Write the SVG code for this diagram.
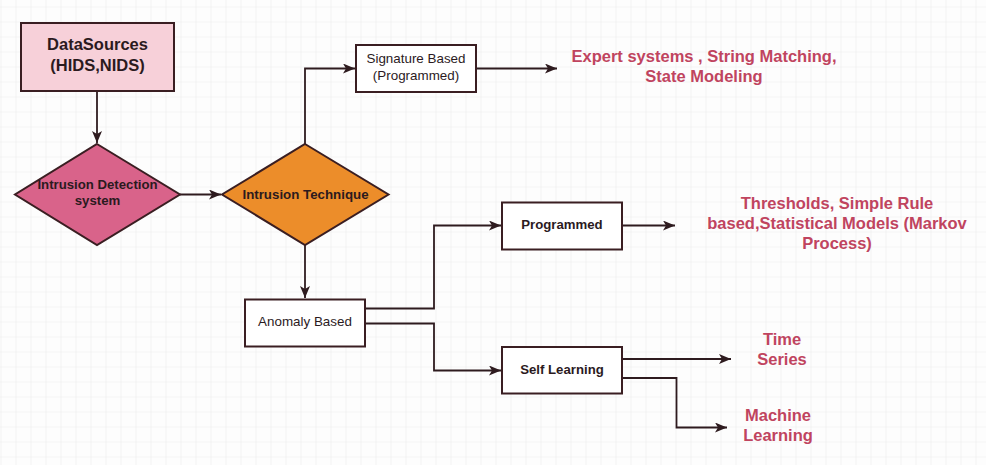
<svg xmlns="http://www.w3.org/2000/svg" width="986" height="465" viewBox="0 0 986 465">
<defs>
<pattern id="grid" x="0.5" y="6.5" width="15" height="15" patternUnits="userSpaceOnUse">
<path d="M0 0V15M0 0H15" fill="none" stroke="#ececec" stroke-width="1.2"/>
</pattern>
<marker id="arr" viewBox="0 0 12 10" refX="12" refY="5" markerWidth="12" markerHeight="10" markerUnits="userSpaceOnUse" orient="auto">
<path d="M0 0L12 5L0 10L3 5Z" fill="#2e1b1f"/>
</marker>
<style>
.n{stroke:#3a1e22;stroke-width:2}
.c{fill:none;stroke:#2e1b1f;stroke-width:1.8;marker-end:url(#arr)}
.t{font-family:"Liberation Sans",Arial,sans-serif;fill:#2b1a1e;text-anchor:middle}
.b{font-weight:bold}
.r{font-family:"Liberation Sans",Arial,sans-serif;fill:#c0445f;font-weight:bold;font-size:16.5px;text-anchor:middle}
</style>
</defs>
<rect width="986" height="465" fill="#fdfdfd"/>
<rect width="986" height="465" fill="url(#grid)"/>
<g id="connectors">
<path class="c" d="M97 91V143"/>
<path class="c" d="M180 194.5H221"/>
<path class="c" d="M305 144V68.5H355"/>
<path class="c" d="M476 68.5H557"/>
<path class="c" d="M305 245V298"/>
<path class="c" d="M365 308.5H434V225.5H501"/>
<path class="c" d="M365 323.5H434V370.5H501"/>
<path class="c" d="M622 225.5H675"/>
<path class="c" d="M622 359H731"/>
<path class="c" d="M622 378H676.5V427.5H727"/>
</g>
<g id="datasources">
<rect class="n" x="21" y="23" width="153" height="68" fill="#f7d0d9"/>
<text class="t b" x="97.5" y="50" font-size="16.5">DataSources</text>
<text class="t b" x="97.5" y="71" font-size="16.5">(HIDS,NIDS)</text>
</g>
<g id="ids">
<path class="n" d="M97 144L180 194.5L97 245L15 194.5Z" fill="#d9638a"/>
<text class="t b" x="97.5" y="189" font-size="13.2">Intrusion Detection</text>
<text class="t b" x="97.5" y="205" font-size="13.2">system</text>
</g>
<g id="technique">
<path class="n" d="M305 144L388.5 194.5L305 245L222 194.5Z" fill="#ec8d2a"/>
<text class="t b" x="305.5" y="199" font-size="13.3">Intrusion Technique</text>
</g>
<g id="signature">
<rect class="n" x="356" y="45" width="120" height="47" fill="#ffffff"/>
<text class="t" x="416" y="63" font-size="13.4">Signature Based</text>
<text class="t" x="416" y="80" font-size="13.4">(Programmed)</text>
</g>
<g id="expert">
<text class="r" x="704" y="62">Expert systems , String Matching,</text>
<text class="r" x="704" y="82">State Modeling</text>
</g>
<g id="anomaly">
<rect class="n" x="245" y="299.5" width="120" height="47" fill="#ffffff"/>
<text class="t" x="305" y="326" font-size="13.4">Anomaly Based</text>
</g>
<g id="programmed">
<rect class="n" x="502" y="202.5" width="120" height="47" fill="#ffffff"/>
<text class="t b" x="562" y="229" font-size="13.2">Programmed</text>
</g>
<g id="selflearning">
<rect class="n" x="502" y="347" width="120" height="46.5" fill="#ffffff"/>
<text class="t b" x="562" y="374" font-size="13.2">Self Learning</text>
</g>
<g id="thresholds">
<text class="r" x="837" y="209">Thresholds, Simple Rule</text>
<text class="r" x="837" y="229">based,Statistical Models (Markov</text>
<text class="r" x="837" y="249">Process)</text>
</g>
<g id="timeseries">
<text class="r" x="782" y="345">Time</text>
<text class="r" x="782" y="365">Series</text>
</g>
<g id="ml">
<text class="r" x="778" y="421">Machine</text>
<text class="r" x="778" y="441">Learning</text>
</g>
</svg>
